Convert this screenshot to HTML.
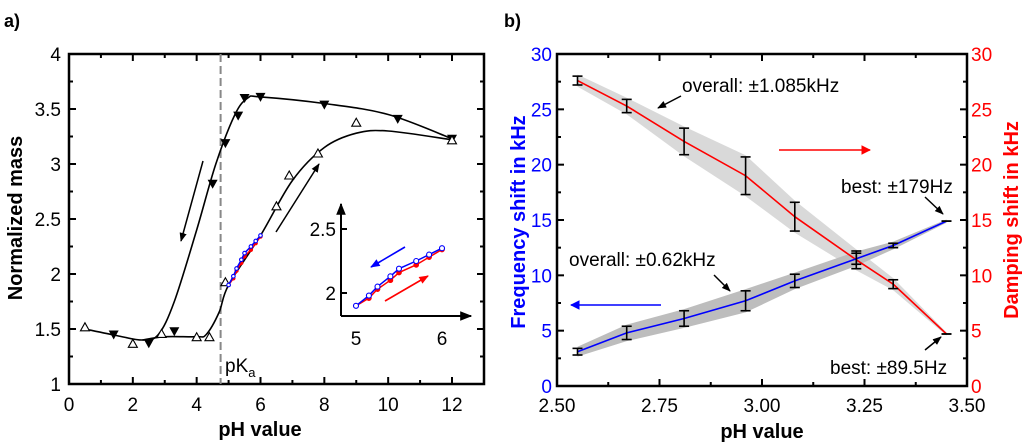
<!DOCTYPE html>
<html><head><meta charset="utf-8"><style>
body{margin:0;background:#fff;}
svg{display:block;font-family:"Liberation Sans",Arial,sans-serif;}
</style></head><body>
<svg id="s" width="1024" height="446" viewBox="0 0 1024 446">
<defs>
<marker id="ak" viewBox="0 0 10 10" refX="9" refY="5" markerWidth="6" markerHeight="6" orient="auto"><path d="M0,1 L10,5 L0,9 z" fill="#000"/></marker>
<marker id="ab" viewBox="0 0 10 10" refX="9" refY="5" markerWidth="6" markerHeight="6" orient="auto"><path d="M0,1 L10,5 L0,9 z" fill="#00f"/></marker>
<marker id="ar" viewBox="0 0 10 10" refX="9" refY="5" markerWidth="6" markerHeight="6" orient="auto"><path d="M0,1 L10,5 L0,9 z" fill="#f00"/></marker>
<marker id="abL" viewBox="0 0 10 10" refX="9" refY="5" markerWidth="6" markerHeight="7" orient="auto"><path d="M0,0 L10,5 L0,10 z" fill="#00f"/></marker>
<marker id="arL" viewBox="0 0 10 10" refX="9" refY="5" markerWidth="6" markerHeight="7" orient="auto"><path d="M0,0 L10,5 L0,10 z" fill="#f00"/></marker>
</defs>
<g id="ga"></g>
<g id="gb"></g>
</svg>
<script>
// ---- Panel a data ----
const aDownX=[1.4,2.5,3.3,4.5,4.9,5.3,5.5,6,8,10.3,12];
const aDownY=[1.45,1.37,1.48,2.82,3.19,3.44,3.6,3.61,3.54,3.41,3.23];
const aUpX=[0.5,2,2.9,4,4.4,4.9,6.5,6.9,7.8,9,12];
const aUpY=[1.52,1.37,1.46,1.43,1.43,1.93,2.62,2.9,3.1,3.38,3.22];
const aCurve1X=[0.5,1.5,2.3,2.8,3.3,4,4.6,5.2,5.6,6,8,10,12];
const aCurve1Y=[1.5,1.44,1.4,1.45,1.75,2.4,3.0,3.45,3.6,3.61,3.55,3.45,3.23];
const aCurve2X=[2.3,3,4,4.3,4.7,5,6,7,8,9,10,12];
const aCurve2Y=[1.4,1.43,1.43,1.45,1.65,1.9,2.35,2.85,3.15,3.28,3.3,3.22];
const insBlueX=[5,5.15,5.25,5.4,5.5,5.7,5.85,6];
const insBlueY=[1.9,1.98,2.05,2.13,2.19,2.25,2.3,2.35];
const insRedX=[5,5.15,5.25,5.4,5.5,5.7,5.85,6];
const insRedY=[1.9,1.96,2.03,2.1,2.16,2.22,2.28,2.34];
const aXTicks=[0,2,4,6,8,10,12];
const aYTicks=[1,1.5,2,2.5,3,3.5,4];
// ---- Panel b data ----
const bX=[2.55,2.67,2.81,2.96,3.08,3.23,3.32,3.45];
const bFreq=[3.1,4.8,6.1,7.7,9.5,11.5,12.7,14.9];
const bFreqErr=[0.3,0.6,0.7,0.9,0.6,0.5,0.2,0];
const bDamp=[27.6,25.3,22.1,19,15.3,11.4,9.2,4.7];
const bDampErr=[0.4,0.6,1.2,1.7,1.3,0.8,0.4,0];
const bXTicks=[2.5,2.75,3.0,3.25,3.5];
const bXLabels=["2.50","2.75","3.00","3.25","3.50"];
const bYTicks=[0,5,10,15,20,25,30];

const NS="http://www.w3.org/2000/svg";
function el(p,t,a,txt){const e=document.createElementNS(NS,t);for(const k in a)e.setAttribute(k,a[k]);if(txt!=null)e.textContent=txt;p.appendChild(e);return e;}
function smooth(pts){let d="M"+pts[0][0]+","+pts[0][1];for(let i=0;i<pts.length-1;i++){const p0=pts[i-1]||pts[i],p1=pts[i],p2=pts[i+1],p3=pts[i+2]||p2;const c1=[p1[0]+(p2[0]-p0[0])/6,p1[1]+(p2[1]-p0[1])/6],c2=[p2[0]-(p3[0]-p1[0])/6,p2[1]-(p3[1]-p1[1])/6];d+=" C"+c1+" "+c2+" "+p2;}return d;}
const FS=19;

// ===== Panel A =====
const A=document.getElementById('ga');
const ax=v=>69+v*(452-69)/12, ay=v=>384-(v-1)*110;
let t=el(A,'text',{x:4,y:27,'font-size':18,'font-weight':'bold'},'a)');

for(let v=0;v<=13;v+=1){const L=v%2==0?7:4;el(A,'line',{x1:ax(v),x2:ax(v),y1:384,y2:384-L,stroke:'#000','stroke-width':2});el(A,'line',{x1:ax(v),x2:ax(v),y1:54,y2:54+L,stroke:'#000','stroke-width':2});}
for(let v=1;v<=4;v+=0.25){const L=(Math.round(v*4)%2==0)?7:4;el(A,'line',{x1:69,x2:69+L,y1:ay(v),y2:ay(v),stroke:'#000','stroke-width':2});el(A,'line',{x1:484,x2:484-L,y1:ay(v),y2:ay(v),stroke:'#000','stroke-width':2});}
aXTicks.forEach(v=>{const e=el(A,'text',{x:ax(v),y:411,'font-size':FS,'text-anchor':'middle'},v);});
aYTicks.forEach(v=>{const e=el(A,'text',{x:61,y:ay(v)+7,'font-size':FS,'text-anchor':'end'},v);});
t=el(A,'rect',{x:69,y:54,width:415,height:330,fill:'none',stroke:'#000','stroke-width':2.5});

t=el(A,'text',{x:260,y:436,'font-size':20,'font-weight':'bold','text-anchor':'middle'},'pH value');

t=el(A,'text',{x:0,y:0,'font-size':20,'font-weight':'bold','text-anchor':'middle',transform:'translate(22,218) rotate(-90)'},'Normalized mass');

t=el(A,'line',{x1:ax(4.75),x2:ax(4.75),y1:54,y2:384,stroke:'#888','stroke-width':2,'stroke-dasharray':'8,4'});

t=el(A,'text',{x:225,y:372,'font-size':19},'pK');el(t,'tspan',{dy:5,'font-size':13},'a');

t=el(A,'path',{d:smooth(aCurve1X.map((x,i)=>[ax(x),ay(aCurve1Y[i])])),fill:'none',stroke:'#000','stroke-width':1.6});

t=el(A,'path',{d:smooth(aCurve2X.map((x,i)=>[ax(x),ay(aCurve2Y[i])])),fill:'none',stroke:'#000','stroke-width':1.6});

aDownX.forEach((x,i)=>{const X=ax(x),Y=ay(aDownY[i]);const e=el(A,'path',{d:`M${X-5},${Y-4} L${X+5},${Y-4} L${X},${Y+5} z`,fill:'#000'});});
aUpX.forEach((x,i)=>{const X=ax(x),Y=ay(aUpY[i]);const e=el(A,'path',{d:`M${X-4.5},${Y+4} L${X+4.5},${Y+4} L${X},${Y-4} z`,fill:'#fff',stroke:'#000','stroke-width':1.1});});
function series(g,xs,ys,fx,fy,col,fill,r,name){el(g,'polyline',{points:xs.map((x,i)=>fx(x)+','+fy(ys[i])).join(' '),fill:'none',stroke:col,'stroke-width':1.5});xs.forEach((x,i)=>{const e=el(g,'circle',{cx:fx(x),cy:fy(ys[i]),r:r,fill:fill,stroke:col,'stroke-width':1.1});});}
series(A,insRedX,insRedY,ax,ay,'#f00','#f00',1.6,'main-red-point');
series(A,insBlueX,insBlueY,ax,ay,'#00f','#fff',1.8,'main-blue-point');
t=el(A,'line',{x1:203,y1:161,x2:181,y2:241,stroke:'#000','stroke-width':1.5,'marker-end':'url(#ak)'});

t=el(A,'line',{x1:276,y1:232,x2:319,y2:164,stroke:'#000','stroke-width':1.5,'marker-end':'url(#ak)'});

const ix=v=>356+(v-5)*86, iy=v=>293-(v-2)*128;
t=el(A,'line',{x1:341,y1:316,x2:341,y2:204,stroke:'#000','stroke-width':2,'marker-end':'url(#ak)'});

t=el(A,'line',{x1:341,y1:316,x2:471,y2:316,stroke:'#000','stroke-width':2,'marker-end':'url(#ak)'});

[2,2.5].forEach(v=>{el(A,'line',{x1:341,x2:347,y1:iy(v),y2:iy(v),stroke:'#000','stroke-width':2});const e=el(A,'text',{x:336,y:iy(v)+7,'font-size':FS,'text-anchor':'end'},v);});
[5,6].forEach(v=>{const e=el(A,'text',{x:ix(v),y:345,'font-size':FS,'text-anchor':'middle'},v);});
series(A,insRedX,insRedY,ix,iy,'#f00','#f00',2.3,'inset-red-point');
series(A,insBlueX,insBlueY,ix,iy,'#00f','#fff',2.5,'inset-blue-point');
t=el(A,'line',{x1:405,y1:247,x2:371,y2:267,stroke:'#00f','stroke-width':1.6,'marker-end':'url(#ab)'});

t=el(A,'line',{x1:385,y1:301,x2:428,y2:276,stroke:'#f00','stroke-width':1.6,'marker-end':'url(#ar)'});


// ===== Panel B =====
const B=document.getElementById('gb');
const bx=v=>557+(v-2.5)*410, by=v=>386-v*(332/30);
t=el(B,'text',{x:504,y:27,'font-size':18,'font-weight':'bold'},'b)');

function band(ys,es,fill,name){const up=bX.map((x,i)=>bx(x)+','+by(ys[i]+es[i]+0.15));const dn=bX.map((x,i)=>bx(x)+','+by(ys[i]-es[i]-0.15)).reverse();const e=el(B,'polygon',{points:up.concat(dn).join(' '),fill:fill});}
band(bDamp,bDampErr,'#d9d9d9','damping-band');
band(bFreq,bFreqErr,'#bdbdbd','frequency-band');
t=el(B,'polyline',{points:bX.map((x,i)=>bx(x)+','+by(bDamp[i])).join(' '),fill:'none',stroke:'#f00','stroke-width':1.6});

t=el(B,'polyline',{points:bX.map((x,i)=>bx(x)+','+by(bFreq[i])).join(' '),fill:'none',stroke:'#00f','stroke-width':1.6});

function ebars(ys,es,name){bX.forEach((x,i)=>{const X=bx(x),a=by(ys[i]+es[i]),b=by(ys[i]-es[i]);const g=el(B,'g',{stroke:'#000','stroke-width':1.6});el(g,'line',{x1:X,x2:X,y1:a,y2:b});el(g,'line',{x1:X-5,x2:X+5,y1:a,y2:a});el(g,'line',{x1:X-5,x2:X+5,y1:b,y2:b});});}
ebars(bDamp,bDampErr,'damping-error-bar');
ebars(bFreq,bFreqErr,'frequency-error-bar');
for(let v=2.5;v<=3.5001;v+=0.125){const L=(Math.round(v*8)%2==0)?7:4;el(B,'line',{x1:bx(v),x2:bx(v),y1:386,y2:386-L,stroke:'#000','stroke-width':2});el(B,'line',{x1:bx(v),x2:bx(v),y1:54,y2:54+L,stroke:'#000','stroke-width':2});}
for(let v=0;v<=30;v+=2.5){const L=(v%5==0)?7:4;el(B,'line',{x1:557,x2:557+L,y1:by(v),y2:by(v),stroke:'#000','stroke-width':2});el(B,'line',{x1:967,x2:967-L,y1:by(v),y2:by(v),stroke:'#000','stroke-width':2});}
t=el(B,'rect',{x:557,y:54,width:410,height:332,fill:'none',stroke:'#000','stroke-width':2.5});

bXTicks.forEach((v,i)=>{const e=el(B,'text',{x:bx(v),y:412,'font-size':FS,'text-anchor':'middle'},bXLabels[i]);});
bYTicks.forEach(v=>{let e=el(B,'text',{x:552,y:by(v)+7,'font-size':FS,'text-anchor':'end',fill:'#00f'},v);
e=el(B,'text',{x:971,y:by(v)+7,'font-size':FS,fill:'#f00'},v);});
t=el(B,'text',{x:762,y:438,'font-size':20,'font-weight':'bold','text-anchor':'middle'},'pH value');

t=el(B,'text',{x:0,y:0,'font-size':20,'font-weight':'bold','text-anchor':'middle',fill:'#00f',transform:'translate(525,222) rotate(-90)'},'Frequency shift in kHz');

t=el(B,'text',{x:0,y:0,'font-size':20,'font-weight':'bold','text-anchor':'middle',fill:'#f00',transform:'translate(1018,220) rotate(-90)'},'Damping shift in kHz');

function ann(x,y,txt,ax1,ay1,ax2,ay2,name){const e=el(B,'text',{x:x,y:y,'font-size':FS},txt);el(B,'line',{x1:ax1,y1:ay1,x2:ax2,y2:ay2,stroke:'#000','stroke-width':1.5,'marker-end':'url(#ak)'});}
ann(682,92,'overall: ±1.085kHz',681,96,658,108,'annotation-damping-overall');
ann(569,266,'overall: ±0.62kHz',714,275,730,291,'annotation-frequency-overall');
ann(841,193,'best: ±179Hz',925,197,943,214,'annotation-frequency-best');
ann(830,374,'best: ±89.5Hz',925,350,941,337,'annotation-damping-best');
t=el(B,'line',{x1:779,y1:150,x2:870,y2:150,stroke:'#f00','stroke-width':1.6,'marker-end':'url(#arL)'});

t=el(B,'line',{x1:661,y1:305,x2:571,y2:305,stroke:'#00f','stroke-width':1.6,'marker-end':'url(#abL)'});

</script>
</body></html>
